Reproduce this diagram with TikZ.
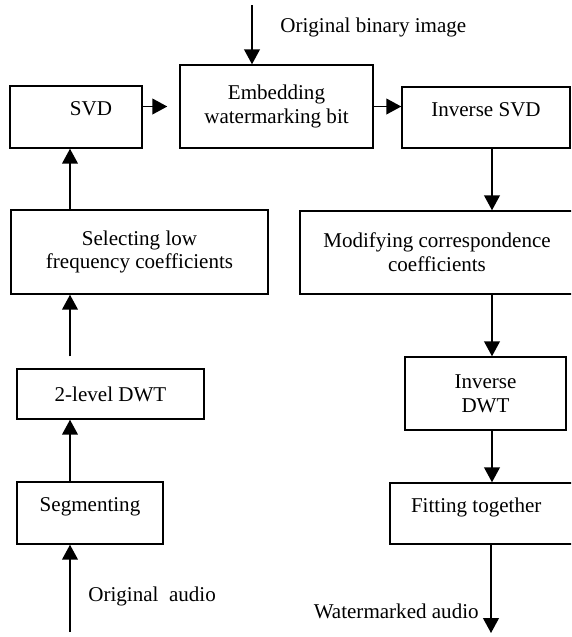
\documentclass[tikz,border=0pt]{standalone}
\usepackage{fontspec}
\setmainfont{Liberation Serif}
\usepackage{tikz}
\usetikzlibrary{arrows.meta,positioning}
\newcommand{\pxu}{0.57pt}
\tikzset{
  procbox/.style={rectangle, draw=black, line width=0.85pt, inner sep=0pt,
    align=center, font=\fontsize{12}{13.5}\selectfont},
  lift/.style={text height=8.5pt, text depth=10pt},
  flow/.style={-{Triangle[length=8.5pt, width=9pt]}, line width=0.85pt},
  caption/.style={font=\fontsize{12}{13.5}\selectfont, inner sep=0pt},
}

\begin{document}
\begin{tikzpicture}[x=\pxu, y=-\pxu]

\useasboundingbox (0,0) rectangle (571,637);
\clip (0,0) rectangle (571,637);

\def\xl{70}    % linke Pfeilspalte
\def\xr{492}   % rechte Pfeilspalte
\coordinate (lcol) at (\xl,0);
\coordinate (rcol) at (\xr,0);

% linke Spalte, von unten nach oben
\node[procbox, lift, minimum width=146*\pxu, minimum height=62*\pxu] (seg) at (90,513) {Segmenting};
\node[procbox, minimum width=187*\pxu, minimum height=50*\pxu] (dwt) at (110.5,394) {2-level DWT};
\node[procbox, minimum width=257*\pxu, minimum height=84*\pxu] (select) at (139.5,252)
  {Selecting low\\frequency coefficients};
\node[procbox, lift, minimum width=132*\pxu, minimum height=62*\pxu] (svd) at (76,117)
  {\hspace*{17pt}SVD};

% obere Reihe
\node[procbox, minimum width=193*\pxu, minimum height=83*\pxu] (embed) at (276.5,106.5)
  {Embedding\\watermarking bit};
\node[procbox, lift, minimum width=168*\pxu, minimum height=61*\pxu] (isvd) at (486,117.5)
  {Inverse SVD};

% rechte Spalte, von oben nach unten
\node[procbox, minimum width=274*\pxu, minimum height=83*\pxu] (modify) at (437,252.5)
  {Modifying correspondence\\coefficients};
\node[procbox, minimum width=161*\pxu, minimum height=73*\pxu] (idwt) at (485.5,393.5)
  {Inverse\\DWT};
\node[procbox, lift, minimum width=190*\pxu, minimum height=61*\pxu] (fit) at (485,513.5)
  {Fitting together\hspace*{10pt}};

% Beschriftungen der Ein- und Ausgaenge
\node[caption, anchor=west] (lblimg) at (280,27) {Original binary image};
\node[caption, anchor=west] (lblin) at (88,596) {Original\ \ audio};
\node[caption, anchor=east] (lblout) at (479,611) {Watermarked audio};

\coordinate (imgin) at (252,5);
\coordinate (audioin) at (\xl,632);
\coordinate (audioout) at (491,633);

\draw[flow] (audioin) -- (audioin |- seg.south);
\draw[flow] (seg.north -| lcol) -- (dwt.south -| lcol);
\draw[flow, shorten <=12*\pxu] (dwt.north -| lcol) -- (select.south -| lcol);
\draw[flow] (select.north -| lcol) -- (svd.south -| lcol);
\draw[flow, shorten >=12*\pxu] (svd.east |- embed.west) -- (embed.west);
\draw[flow] (imgin) -- (imgin |- embed.north);
\draw[flow] (embed.east) -- (embed.east -| isvd.west);
\draw[flow] (isvd.south -| rcol) -- (modify.north -| rcol);
\draw[flow] (modify.south -| rcol) -- (idwt.north -| rcol);
\draw[flow] (idwt.south -| rcol) -- (fit.north -| rcol);
\draw[flow] (fit.south -| audioout) -- (audioout);

\end{tikzpicture}
\end{document}
